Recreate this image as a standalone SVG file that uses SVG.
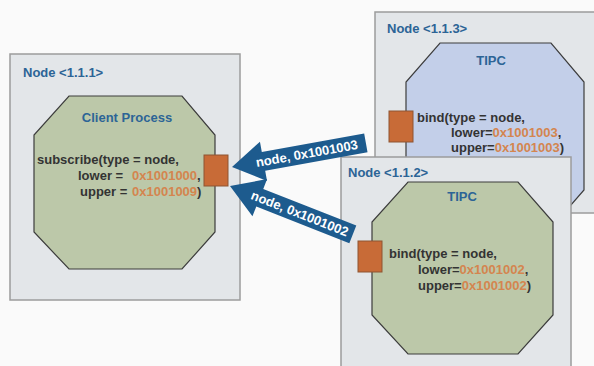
<svg xmlns="http://www.w3.org/2000/svg" width="594" height="366" viewBox="0 0 594 366">
<style>
.box{fill:#e3e6e9;stroke:#9c9c9c;stroke-width:1.5}
.oct{stroke:#3c3c3c;stroke-width:1.2}
.green{fill:#bcc8a9}
.blue{fill:#c3cfe9}
.port{fill:#c86b37;stroke:#8e5432;stroke-width:1}
.lbl{font-family:"Liberation Sans",Arial,sans-serif;font-weight:bold;font-size:13px;fill:#2c6496}
.code{font-family:"Liberation Sans",Arial,sans-serif;font-weight:bold;font-size:13px;fill:#333333}
.hex{fill:#d4854f}
.arrow{fill:#1d5b8e}
.atext{font-family:"Liberation Sans",Arial,sans-serif;font-weight:bold;font-size:13px;fill:#ffffff}
</style>
<rect x="0" y="0" width="594" height="366" fill="#fafafa"/>
<g id="node111">
<rect class="box" x="10" y="54" width="230" height="246"/>
<text class="lbl" x="23" y="77">Node &lt;1.1.1&gt;</text>
<polygon class="oct green" points="69,96 182,96 215,135 215,232 182,269 69,269 34,232 34,135"/>
<text class="lbl" x="127" y="122" text-anchor="middle">Client Process</text>
<text class="code" x="37" y="164">subscribe(type = node,</text>
<text class="code" x="78" y="180">lower =<tspan class="hex" x="132">0x1001000</tspan>,</text>
<text class="code" x="80" y="196">upper =<tspan class="hex" x="132">0x1001009</tspan>)</text>
<rect class="port" x="204" y="155" width="24" height="31"/>
</g>
<g id="node113">
<rect class="box" x="375" y="12" width="225" height="201"/>
<text class="lbl" x="387" y="33">Node &lt;1.1.3&gt;</text>
<polygon class="oct blue" points="440,43 551,43 584,82 584,190 551,228 440,228 406,190 406,82"/>
<text class="lbl" x="491" y="65" text-anchor="middle">TIPC</text>
<text class="code" x="417" y="122">bind(type = node,</text>
<text class="code" x="451" y="137">lower=<tspan class="hex">0x1001003</tspan>,</text>
<text class="code" x="451" y="152">upper=<tspan class="hex">0x1001003</tspan>)</text>
<rect class="port" x="389" y="111" width="24" height="31"/>
</g>
<g id="node112">
<rect class="box" x="341" y="157" width="230" height="215"/>
<text class="lbl" x="348" y="177">Node &lt;1.1.2&gt;</text>
<polygon class="oct green" points="408,182 518,182 553,222 553,315 518,354 408,354 372,315 372,222"/>
<text class="lbl" x="462" y="201" text-anchor="middle">TIPC</text>
<text class="code" x="389" y="258">bind(type = node,</text>
<text class="code" x="418" y="274">lower=<tspan class="hex">0x1001002</tspan>,</text>
<text class="code" x="418" y="290">upper=<tspan class="hex">0x1001002</tspan>)</text>
<rect class="port" x="358" y="241" width="24" height="31"/>
</g>
<g id="connectors">
<g transform="translate(232,167) rotate(-10.2)">
<polygon class="arrow" points="0,0 32,-20 32,-9.5 136,-9.5 136,9.5 32,9.5 32,20"/>
<text class="atext" x="76" y="4.5" text-anchor="middle">node, 0x1001003</text>
</g>
<g transform="translate(230,186) rotate(21.5)">
<polygon class="arrow" points="0,0 32,-20 32,-9.5 132,-9.5 132,9.5 32,9.5 32,20"/>
<text class="atext" x="75" y="4.5" text-anchor="middle">node, 0x1001002</text>
</g>
</g>
</svg>
